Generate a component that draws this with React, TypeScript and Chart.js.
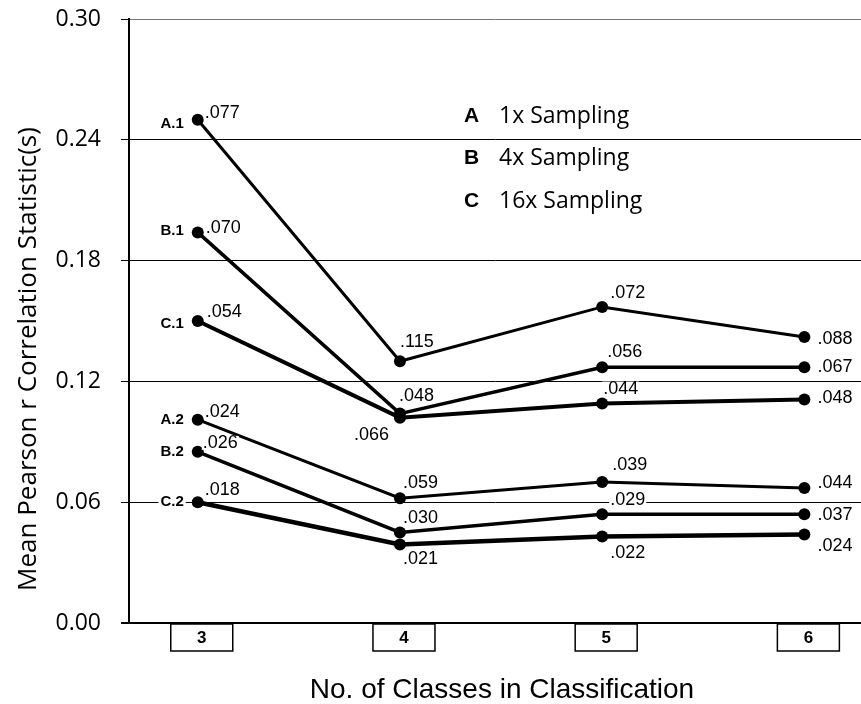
import React, { useEffect, useRef } from 'react';
import { Chart, registerables } from 'chart.js';

Chart.register(...registerables);

// ---------- data ----------
const classes = [3, 4, 5, 6];

const seriesA1 = [0.250, 0.130, 0.157, 0.142];
const seriesB1 = [0.194, 0.104, 0.127, 0.127];
const seriesC1 = [0.150, 0.102, 0.109, 0.111];
const seriesA2 = [0.101, 0.062, 0.070, 0.067];
const seriesB2 = [0.085, 0.045, 0.054, 0.054];
const seriesC2 = [0.060, 0.039, 0.043, 0.044];

const labelsA1 = ['.077', '.115', '.072', '.088'];
const labelsB1 = ['.070', '.048', '.056', '.067'];
const labelsC1 = ['.054', '.066', '.044', '.048'];
const labelsA2 = ['.024', '.059', '.039', '.044'];
const labelsB2 = ['.026', '.030', '.029', '.037'];
const labelsC2 = ['.018', '.021', '.022', '.024'];

const seriesTags = ['A.1', 'B.1', 'C.1', 'A.2', 'B.2', 'C.2'];
const legendKeys = ['A', 'B', 'C'];
const legendLabels = ['1x Sampling', '4x Sampling', '16x Sampling'];

const yMin = 0;
const yMax = 0.3;
const yStep = 0.06;

const xTitle = 'No. of Classes in Classification';
const yTitle = 'Mean Pearson r Correlation Statistic(s)';

// ---------- styling / placement (not data) ----------
const allSeries = [seriesA1, seriesB1, seriesC1, seriesA2, seriesB2, seriesC2];
const allLabels = [labelsA1, labelsB1, labelsC1, labelsA2, labelsB2, labelsC2];
const lineWidths = [3, 3.5, 4, 3, 3.5, 4.5];

type Place = [number, number, CanvasTextAlign];
const labelPlacement: Place[][] = [
  [[7, -7, 'left'], [0, -19, 'left'], [8, -14, 'left'], [13, 2, 'left']],
  [[8, -4, 'left'], [-1, -18, 'left'], [5, -15, 'left'], [13, 0, 'left']],
  [[9, -9, 'left'], [-11, 17, 'right'], [1, -15, 'left'], [13, -1, 'left']],
  [[7, -8, 'left'], [3, -15, 'left'], [10, -17, 'left'], [13, -5, 'left']],
  [[5, -9, 'left'], [3, -14, 'left'], [8, -14, 'left'], [13, 1, 'left']],
  [[7, -12, 'left'], [3, 15, 'left'], [8, 17, 'left'], [13, 12, 'left']],
];
const tagDy = [4, -2, 3, 0, 0, 0];

const labelFont = '18px "Liberation Sans", Arial, sans-serif';
const tagFont = 'bold 15px "Liberation Sans", Arial, sans-serif';

const overlayPlugin = {
  id: 'overlay',
  afterDatasetsDraw(chart: any) {
    const ctx: CanvasRenderingContext2D = chart.ctx;
    ctx.save();
    ctx.textBaseline = 'middle';
    ctx.fillStyle = '#000';
    allLabels.forEach((labels, i) => {
      const meta = chart.getDatasetMeta(i);
      meta.data.forEach((pt: any, j: number) => {
        const [dx, dy, align] = labelPlacement[i][j];
        ctx.font = labelFont;
        const w = ctx.measureText(labels[j]).width;
        const x = pt.x + dx;
        const y = pt.y + dy;
        const left = align === 'right' ? x - w : x;
        ctx.fillStyle = '#fff';
        ctx.fillRect(left - 1, y - 7, w + 2, 14);
        ctx.fillStyle = '#000';
        ctx.textAlign = align;
        ctx.fillText(labels[j], x, y);
      });
      const p0 = meta.data[0];
      ctx.font = tagFont;
      ctx.textAlign = 'right';
      const tw = ctx.measureText(seriesTags[i]).width;
      const tx = p0.x - 14;
      const ty = p0.y + tagDy[i];
      ctx.fillStyle = '#fff';
      ctx.fillRect(tx - tw - 2, ty - 6, tw + 4, 12);
      ctx.fillStyle = '#000';
      ctx.fillText(seriesTags[i], tx, ty);
    });
    ctx.restore();
  },
  afterDraw(chart: any) {
    const ctx: CanvasRenderingContext2D = chart.ctx;
    const xs = chart.scales.x;
    const ys = chart.scales.y;
    const area = chart.chartArea;
    ctx.save();
    // category boxes below axis
    classes.forEach((c) => {
      const cx = xs.getPixelForValue(c) + 4;
      const top = ys.getPixelForValue(yMin) + 1;
      ctx.strokeStyle = '#000';
      ctx.lineWidth = 1.5;
      ctx.strokeRect(cx - 31, top, 62, 27);
      ctx.fillStyle = '#000';
      ctx.font = 'bold 17px "Liberation Sans", Arial, sans-serif';
      ctx.textAlign = 'center';
      ctx.textBaseline = 'middle';
      ctx.fillText(String(c), cx, top + 14);
    });
    // legend
    legendKeys.forEach((k, i) => {
      const y = 116 + i * 42.5;
      ctx.fillStyle = '#000';
      ctx.textBaseline = 'middle';
      ctx.textAlign = 'left';
      ctx.font = 'bold 21px "Liberation Sans", Arial, sans-serif';
      ctx.fillText(k, 464, y);
      ctx.font = '23px "Open Sans", sans-serif';
      ctx.fillText(legendLabels[i], 499, y);
    });
    // x title
    ctx.font = '28px "Liberation Sans", Arial, sans-serif';
    ctx.textAlign = 'center';
    ctx.textBaseline = 'middle';
    ctx.fillText(xTitle, (area.left + area.right) / 2 + 7, 690);
    // y title
    ctx.translate(29, (area.top + area.bottom) / 2 + 38);
    ctx.rotate(-Math.PI / 2);
    ctx.font = '26px "Open Sans", sans-serif';
    ctx.textAlign = 'center';
    ctx.textBaseline = 'middle';
    ctx.fillStyle = '#000';
    ctx.fillText(yTitle, 0, 0);
    ctx.restore();
  },
};

export default function App() {
  const canvasRef = useRef<HTMLCanvasElement | null>(null);

  useEffect(() => {
    document.body.style.margin = '0';
    const canvas = canvasRef.current;
    if (!canvas) return;
    const chart = new Chart(canvas, {
      type: 'line',
      data: {
        datasets: allSeries.map((s, i) => ({
          label: seriesTags[i],
          data: s.map((v, j) => ({ x: classes[j], y: v })),
          borderColor: '#000',
          backgroundColor: '#000',
          borderWidth: lineWidths[i],
          pointRadius: 6,
          pointBorderWidth: 0,
          pointBackgroundColor: '#000',
          tension: 0,
          clip: false as any,
        })),
      },
      options: {
        responsive: false,
        animation: false,
        layout: { autoPadding: false, padding: { top: 19, right: 0, left: 0, bottom: 0 } } as any,
        plugins: {
          legend: { display: false },
          tooltip: { enabled: false },
        },
        scales: {
          x: {
            type: 'linear',
            min: 2.66,
            max: 6.28,
            grid: { display: false },
            border: { display: false },
            ticks: { display: false },
            afterFit: (scale: any) => {
              scale.height = 81;
              scale.paddingLeft = 0;
              scale.paddingRight = 0;
            },
          },
          y: {
            type: 'linear',
            min: yMin,
            max: yMax,
            ticks: {
              stepSize: yStep,
              color: '#000',
              padding: 20,
              font: { family: '"Open Sans", sans-serif', size: 23 },
              callback: (v: any) => Number(v).toFixed(2),
            },
            grid: {
              color: (ctx: any) => (ctx.tick && Math.abs(ctx.tick.value - yMax) < 1e-9 ? '#777' : '#000'),
              lineWidth: (ctx: any) => (ctx.tick && Math.abs(ctx.tick.value) < 1e-9 ? 2 : 1),
              tickColor: '#000',
              tickLength: 8,
              drawTicks: true,
            },
            border: { display: true, color: '#000', width: 2 },
            afterFit: (scale: any) => {
              scale.width = 129;
              scale.paddingTop = 0;
              scale.paddingBottom = 0;
            },
          },
        },
      },
      plugins: [overlayPlugin],
    });
    return () => chart.destroy();
  }, []);

  return (
    <div style={{ width: 861, height: 704, background: '#fff' }}>
      <canvas ref={canvasRef} width={861} height={704} style={{ display: 'block' }} />
    </div>
  );
}
